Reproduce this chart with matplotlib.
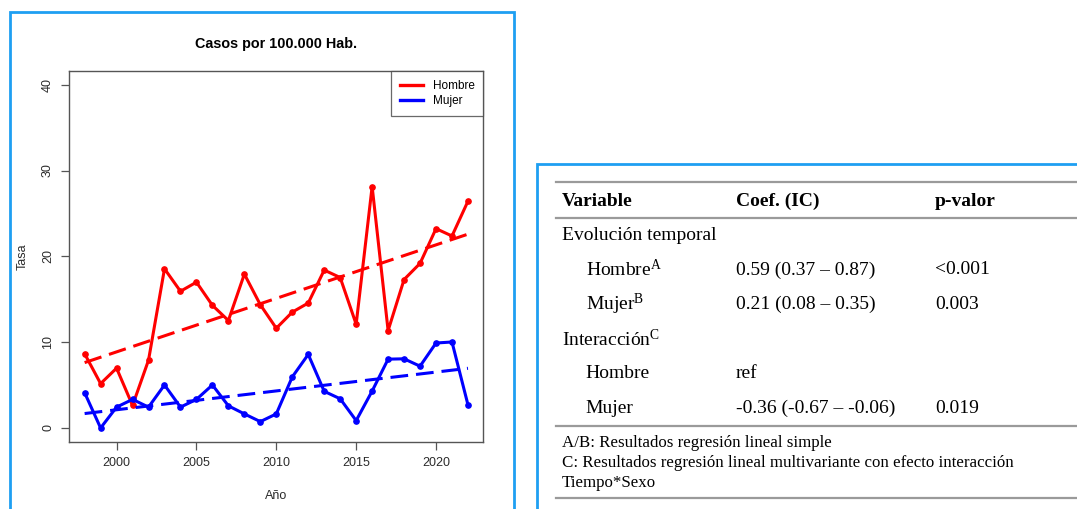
import numpy as np
import matplotlib
matplotlib.use("Agg")
import matplotlib.pyplot as plt
from matplotlib.patches import Rectangle
from matplotlib.lines import Line2D

W, H = 1077, 509

# Tasas anuales por 100.000 habitantes
years = np.arange(1998, 2023)
hombre = [8.65, 5.17, 6.97, 2.62, 7.9, 18.55, 15.93, 16.99, 14.29, 12.52,
          17.93, 14.36, 11.62, 13.5, 14.56, 18.4, 17.53, 12.09, 28.14, 11.35,
          17.3, 19.18, 23.23, 22.37, 26.43]
mujer = [4.11, 0.0, 2.43, 3.33, 2.43, 5.01, 2.43, 3.33, 5.01, 2.58,
         1.64, 0.74, 1.64, 5.95, 8.57, 4.27, 3.4, 0.86, 4.3, 8.02,
         8.06, 7.2, 9.9, 10.02, 2.7]
series_names = ["Hombre", "Mujer"]
series_colors = ["#FF0000", "#0000FF"]
y_ticks = [0, 10, 20, 30, 40]
x_ticks = [2000, 2005, 2010, 2015, 2020]

# Tabla de regresion
header = ["Variable", "Coef. (IC)", "p-valor"]
table_rows = [
    ("Evolución temporal", 0, "", ""),
    ("Hombre$^{\\mathrm{A}}$", 1, "0.59 (0.37 – 0.87)", "<0.001"),
    ("Mujer$^{\\mathrm{B}}$", 1, "0.21 (0.08 – 0.35)", "0.003"),
    ("Interacción$^{\\mathrm{C}}$", 0, "", ""),
    ("Hombre", 1, "ref", ""),
    ("Mujer", 1, "-0.36 (-0.67 – -0.06)", "0.019"),
]
footnotes = [
    "A/B: Resultados regresión lineal simple",
    "C: Resultados regresión lineal multivariante con efecto interacción",
    "Tiempo*Sexo",
]

plt.rcParams["font.family"] = ["Liberation Sans", "DejaVu Sans"]
plt.rcParams["mathtext.fontset"] = "custom"
plt.rcParams["mathtext.rm"] = "Liberation Serif"
plt.rcParams["mathtext.it"] = "Liberation Serif"

fig = plt.figure(figsize=(W / 100, H / 100), dpi=100)


def fx(px):
    return px / W


def fy(py):
    return 1 - py / H


# marcos azules
box_col = "#1E9FF2"
fig.add_artist(Rectangle((fx(10), fy(520)), fx(504), fy(12) - fy(520),
                         transform=fig.transFigure, fill=False,
                         edgecolor=box_col, lw=2))
fig.add_artist(Rectangle((fx(537), fy(520)), fx(560), fy(164) - fy(520),
                         transform=fig.transFigure, fill=False,
                         edgecolor=box_col, lw=2))

# ---------- grafico ----------
ax = fig.add_axes([fx(69.3), fy(441.7), fx(483.3) - fx(69.3), fy(71) - fy(441.7)])
for vals, col in zip([hombre, mujer], series_colors):
    ax.plot(years, vals, color=col, lw=2.2, marker="o", ms=3.8)
    slope, icpt = np.polyfit(years, vals, 1)
    ax.plot(years, slope * years + icpt, color=col, lw=2.2, ls=(0, (5.8, 2.6)))

ax.set_xlim(1997.04, 2022.96)
ax.set_ylim(-1.6, 41.6)
ax.set_xticks(x_ticks)
ax.set_yticks(y_ticks)
ax.set_yticklabels([str(t) for t in y_ticks], rotation=90, va="center")
ax.tick_params(colors="#555555", labelcolor="#2b2b2b", labelsize=9, length=6,
               width=0.9, pad=5)
for s in ax.spines.values():
    s.set_color("#555555")
    s.set_linewidth(1.0)
ax.set_title("Casos por 100.000 Hab.", fontsize=10.4, fontweight="bold", pad=16.5)
ax.set_xlabel("Año", fontsize=9, color="#2b2b2b", labelpad=15)
ax.set_ylabel("Tasa", fontsize=9, color="#2b2b2b", labelpad=9.5)

handles = [Line2D([], [], color=c, lw=2.4) for c in series_colors]
leg = ax.legend(handles, series_names, loc="upper right", fontsize=8.5,
                frameon=True, fancybox=False, borderaxespad=0,
                handlelength=2.0, handletextpad=0.8, borderpad=0.75,
                labelspacing=0.3)
leg.get_frame().set_edgecolor("#444444")
leg.get_frame().set_linewidth(0.9)

# ---------- tabla ----------
serif = "Liberation Serif"
rule_col = "#9A9A9A"
for ry in [182.3, 217.7, 425.7, 498.3]:
    fig.add_artist(Line2D([fx(556), fx(1080)], [fy(ry), fy(ry)],
                          transform=fig.transFigure, color=rule_col, lw=1.6))

col_x = [561.7, 736, 935]
for x, txt in zip(col_x, header):
    fig.text(fx(x), fy(201.7), txt, family=serif, fontsize=14,
             fontweight="bold", va="center", ha="left")

row_y = [236, 270, 304.3, 340, 374, 408.3]
for ry, (label, indent, coef, p) in zip(row_y, table_rows):
    lx = 585.7 if indent else 561.7
    fig.text(fx(lx), fy(ry), label, family=serif, fontsize=14, va="center")
    fig.text(fx(col_x[1]), fy(ry), coef, family=serif, fontsize=14, va="center")
    fig.text(fx(col_x[2]), fy(ry), p, family=serif, fontsize=14, va="center")

for ry, txt in zip([442.7, 463.3, 482.7], footnotes):
    fig.text(fx(561.7), fy(ry), txt, family=serif, fontsize=12.2, va="center")

fig.savefig("out.png", dpi=100)
